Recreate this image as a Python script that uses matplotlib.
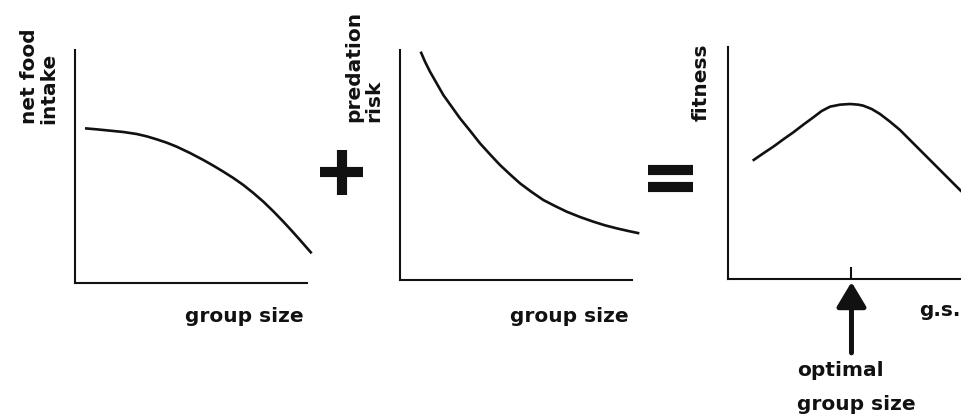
import matplotlib
matplotlib.use("Agg")
import matplotlib.pyplot as plt
from matplotlib.lines import Line2D

# ---------------- data (arbitrary units 0..10) ----------------
food_x = [0.431, 0.934, 1.509, 2.083, 2.658, 3.089, 3.520, 3.951, 4.382, 4.957, 5.532,
          5.963, 6.394, 6.825, 7.256, 7.687, 8.118, 8.549, 8.980, 9.339, 9.698, 10.201]
food_y = [6.638, 6.595, 6.538, 6.481, 6.395, 6.295, 6.166, 6.023, 5.851, 5.579, 5.279,
          5.036, 4.778, 4.506, 4.206, 3.863, 3.491, 3.076, 2.632, 2.246, 1.845, 1.273]

risk_x = [0.891, 1.078, 1.293, 1.580, 1.868, 2.227, 2.586, 3.017, 3.448, 3.879, 4.310, 4.741,
          5.172, 5.675, 6.178, 6.681, 7.184, 7.759, 8.333, 8.836, 9.339, 9.842, 10.316]
risk_y = [9.928, 9.493, 9.058, 8.551, 8.043, 7.536, 7.029, 6.493, 5.942, 5.464, 5.000, 4.594,
          4.203, 3.826, 3.478, 3.217, 2.971, 2.739, 2.536, 2.377, 2.246, 2.130, 2.029]

fit_x = [1.059, 1.516, 1.946, 2.375, 2.804, 3.233, 3.662, 4.020, 4.378, 4.807, 5.236, 5.594,
         5.808, 6.166, 6.524, 6.953, 7.382, 7.811, 8.240, 8.670, 9.099, 9.528, 9.957, 10.6]
fit_y = [5.101, 5.417, 5.704, 6.020, 6.322, 6.652, 6.968, 7.241, 7.428, 7.514, 7.543, 7.514,
         7.471, 7.328, 7.112, 6.782, 6.422, 5.991, 5.560, 5.129, 4.698, 4.267, 3.836, 3.25]

optimal_x = 5.3

ylabels = ["net food\nintake", "predation\nrisk", "fitness"]
xlabels = ["group size", "group size", "g.s."]
optimal_label = ["optimal", "group size"]

# ---------------- figure ----------------
W, H = 961, 418
fig = plt.figure(figsize=(W / 100, H / 100), dpi=100)
fig.patch.set_facecolor("white")

INK = "#111111"
FONT = dict(family="DejaVu Sans", weight="bold", color=INK, fontsize=14.5)


def fx(px):
    return px / W


def fy(py):
    return 1 - py / H


def make_axes(left, top, right, bottom):
    ax = fig.add_axes([fx(left), fy(bottom), (right - left) / W, (bottom - top) / H])
    ax.set_xlim(0, 10)
    ax.set_ylim(0, 10)
    for s in ("top", "right"):
        ax.spines[s].set_visible(False)
    for s in ("left", "bottom"):
        ax.spines[s].set_linewidth(1.5)
        ax.spines[s].set_color(INK)
    ax.set_xticks([])
    ax.set_yticks([])
    ax.patch.set_alpha(0)
    return ax


ax1 = make_axes(75, 50, 307, 283)
ax2 = make_axes(400, 50, 632, 280)
ax3 = make_axes(728, 47, 961, 279)

lw = 1.9
ax1.plot(food_x, food_y, color=INK, lw=lw, clip_on=False, solid_capstyle="butt")
ax2.plot(risk_x, risk_y, color=INK, lw=lw, clip_on=False, solid_capstyle="butt")
ax3.plot(fit_x, fit_y, color=INK, lw=lw, clip_on=False, solid_capstyle="butt")

# tick at optimum
ax3.set_xticks([optimal_x])
ax3.set_xticklabels([""])
ax3.tick_params(axis="x", direction="in", length=9, width=1.5, color=INK)

# arrow pointing at the optimum
ax3.annotate("", xy=(optimal_x, -0.013), xycoords=("data", "axes fraction"),
             xytext=(0, -51), textcoords="offset points",
             arrowprops=dict(arrowstyle="-|>,head_length=0.75,head_width=0.45",
                             mutation_scale=20, lw=3.6, color=INK,
                             shrinkA=0, shrinkB=0), annotation_clip=False)

# y labels (rotated, start of lines aligned)
fig.text(fx(39), fy(124), ylabels[0], rotation=90, ha="center", va="bottom",
         multialignment="left", linespacing=1.05, **FONT)
fig.text(fx(364), fy(122), ylabels[1], rotation=90, ha="center", va="bottom",
         multialignment="left", linespacing=1.05, **FONT)
fig.text(fx(701), fy(121), ylabels[2], rotation=90, ha="center", va="bottom", **FONT)

# x labels
fig.text(fx(244), fy(316), xlabels[0], ha="center", va="center", **FONT)
fig.text(fx(569), fy(316), xlabels[1], ha="center", va="center", **FONT)
fig.text(fx(940), fy(311), xlabels[2], ha="center", va="center", **FONT)

fig.text(fx(797), fy(370), optimal_label[0], ha="left", va="center", **FONT)
fig.text(fx(797), fy(405), optimal_label[1], ha="left", va="center", **FONT)

# plus and equals signs (layout decorations, in pixel coordinates)
ov = fig.add_axes([0, 0, 1, 1])
ov.set_xlim(0, W)
ov.set_ylim(H, 0)
ov.axis("off")
ov.patch.set_alpha(0)
sw = 7.3
ov.add_line(Line2D([320, 363], [172, 172], lw=sw, color=INK, solid_capstyle="butt"))
ov.add_line(Line2D([342, 342], [150, 195], lw=sw, color=INK, solid_capstyle="butt"))
ov.add_line(Line2D([648, 693], [170, 170], lw=sw, color=INK, solid_capstyle="butt"))
ov.add_line(Line2D([648, 693], [187, 187], lw=sw, color=INK, solid_capstyle="butt"))

fig.savefig("out.png", dpi=100, facecolor="white")
